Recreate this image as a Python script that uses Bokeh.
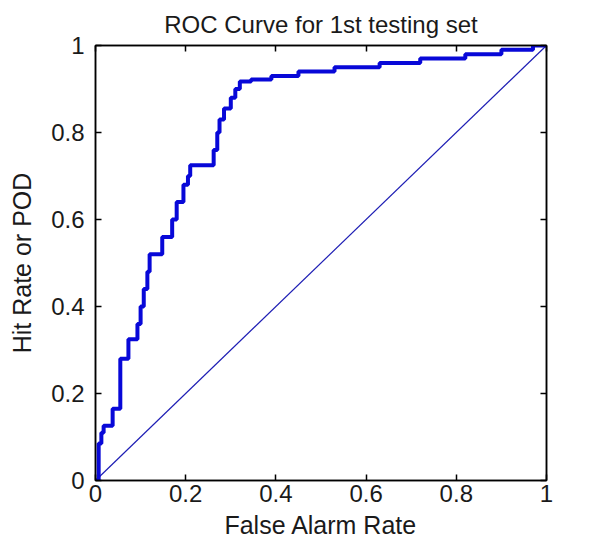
from bokeh.plotting import figure
from bokeh.models import Range1d, FixedTicker, LinearAxis, CustomJSTickFormatter
from bokeh.embed import file_html
from bokeh.resources import INLINE

# ROC curve (false alarm rate, hit rate)
far = [0.0, 0.007, 0.007, 0.013, 0.013, 0.018, 0.018, 0.038, 0.038, 0.055,
       0.055, 0.073, 0.073, 0.093, 0.093, 0.100, 0.100, 0.107, 0.107, 0.115,
       0.115, 0.120, 0.120, 0.148, 0.148, 0.170, 0.170, 0.180, 0.180, 0.195,
       0.195, 0.205, 0.205, 0.210, 0.210, 0.262, 0.262, 0.270, 0.270, 0.275,
       0.275, 0.285, 0.285, 0.300, 0.300, 0.310, 0.310, 0.320, 0.320, 0.345,
       0.345, 0.390, 0.390, 0.450, 0.450, 0.530, 0.530, 0.630, 0.630, 0.720,
       0.720, 0.820, 0.820, 0.900, 0.900, 0.970, 0.970, 1.0]
hit = [0.0, 0.0, 0.085, 0.085, 0.110, 0.110, 0.126, 0.126, 0.165, 0.165,
       0.280, 0.280, 0.325, 0.325, 0.360, 0.360, 0.400, 0.400, 0.440, 0.440,
       0.480, 0.480, 0.520, 0.520, 0.560, 0.560, 0.600, 0.600, 0.640, 0.640,
       0.680, 0.680, 0.700, 0.700, 0.725, 0.725, 0.760, 0.760, 0.800, 0.800,
       0.830, 0.830, 0.855, 0.855, 0.880, 0.880, 0.900, 0.900, 0.917, 0.917,
       0.922, 0.922, 0.930, 0.930, 0.940, 0.940, 0.950, 0.950, 0.960, 0.960,
       0.970, 0.970, 0.980, 0.980, 0.990, 0.990, 1.0, 1.0]
diag_x = [0.0, 1.0]
diag_y = [0.0, 1.0]

ticks = [0, 0.2, 0.4, 0.6, 0.8, 1]
tick_labels = ["0", "0.2", "0.4", "0.6", "0.8", "1"]

FONT = "Liberation Sans"
TXT = "#1a1a1a"

p = figure(width=586, height=542, output_backend="svg", toolbar_location=None,
           x_range=Range1d(0, 1), y_range=Range1d(0, 1),
           min_border_left=95, min_border_right=40, min_border_top=44,
           min_border_bottom=62)
p.title.text = "ROC Curve for 1st testing set"
p.title.text_font = FONT
p.title.text_font_size = "24px"
p.title.text_font_style = "normal"
p.title.text_color = TXT
p.title.align = "center"
p.title.standoff = 16

p.grid.visible = False
p.outline_line_color = "black"
p.outline_line_width = 1.5
p.background_fill_color = "white"
p.border_fill_color = "white"

overrides = {t: l for t, l in zip(ticks, tick_labels)}
for ax, lab in ((p.xaxis[0], "False Alarm Rate"), (p.yaxis[0], "Hit Rate or POD")):
    ax.ticker = FixedTicker(ticks=ticks)
    ax.major_label_overrides = overrides
    ax.minor_tick_line_color = None
    ax.major_tick_in = 6
    ax.major_tick_out = 0
    ax.axis_line_color = "black"
    ax.axis_line_width = 1.5
    ax.major_tick_line_width = 1.5
    ax.major_label_text_font = FONT
    ax.major_label_text_font_size = "24px"
    ax.major_label_text_color = TXT
    ax.axis_label = lab
    ax.axis_label_text_font = FONT
    ax.axis_label_text_font_size = "25px"
    ax.axis_label_text_font_style = "normal"
    ax.axis_label_text_color = TXT
p.xaxis[0].major_label_standoff = 4
p.xaxis[0].axis_label_standoff = 6
p.yaxis[0].major_label_standoff = 11
p.yaxis[0].axis_label_standoff = 12

blank = CustomJSTickFormatter(code="return ''")
for loc in ("above", "right"):
    ax = LinearAxis(ticker=FixedTicker(ticks=ticks), formatter=blank,
                    major_tick_in=6, major_tick_out=0, minor_tick_line_color=None,
                    axis_line_color="black", axis_line_width=1.5,
                    major_tick_line_width=1.5, major_label_standoff=0)
    p.add_layout(ax, loc)

p.line(diag_x, diag_y, line_color="#1e1eb4", line_width=1.2)
p.line(far, hit, line_color="#0808d8", line_width=4)

open("out.html", "w").write(file_html(p, INLINE))
